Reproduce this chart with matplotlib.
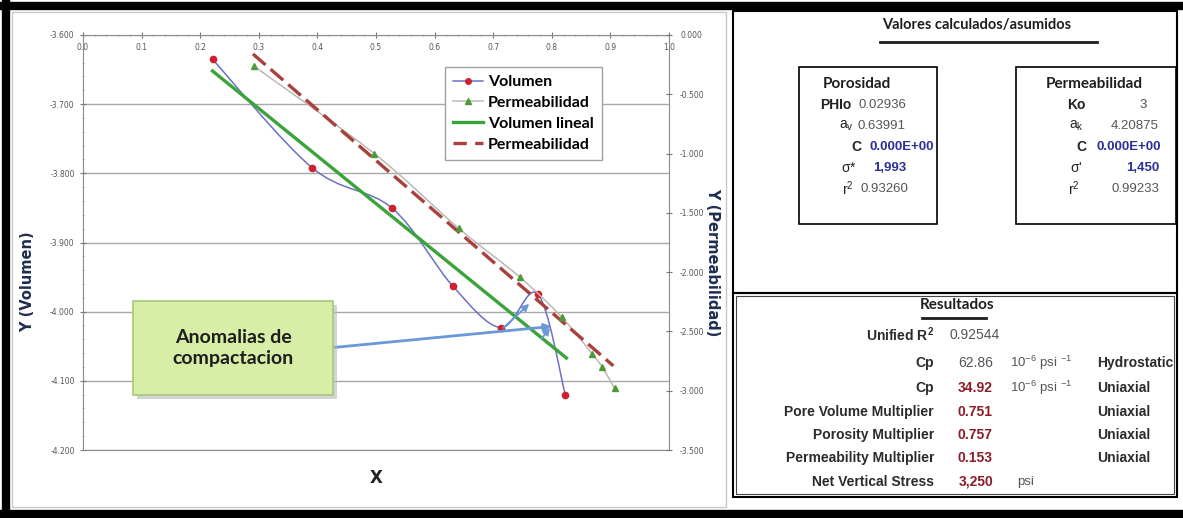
import numpy as np
import matplotlib.pyplot as plt
from matplotlib.path import Path
from matplotlib.patches import PathPatch, Rectangle
from matplotlib.lines import Line2D
from matplotlib.ticker import MultipleLocator, FuncFormatter
from matplotlib import font_manager

W, H = 1183, 518

# data
vol_x = [0.221, 0.391, 0.527, 0.631, 0.713, 0.776, 0.823]
vol_y = [-3.635, -3.792, -3.850, -3.963, -4.023, -3.974, -4.120]
perm_x = [0.291, 0.497, 0.641, 0.745, 0.817, 0.869, 0.886, 0.907]
perm_y = [-0.26, -1.00, -1.63, -2.04, -2.38, -2.69, -2.80, -2.98]
vol_lin_x = [0.221, 0.825]
vol_lin_y = [-3.652, -4.067]
perm_lin_x = [0.290, 0.905]
perm_lin_y = [-0.16, -2.79]
legend_labels = ['Volumen', 'Permeabilidad', 'Volumen lineal', 'Permeabilidad']

poro_labels = ['PHIo', r'a$_\mathregular{v}$', 'C', r'$\sigma$*', r'r$^\mathregular{2}$']
poro_values = ['0.02936', '0.63991', '0.000E+00', '1,993', '0.93260']
perm_labels = ['Ko', r'a$_\mathregular{k}$', 'C', r"$\sigma$'", r'r$^\mathregular{2}$']
perm_values = ['3', '4.20875', '0.000E+00', '1,450', '0.99233']

res_labels = [r'Unified R$^\mathregular{2}$', 'Cp', 'Cp', 'Pore Volume Multiplier',
              'Porosity Multiplier', 'Permeability Multiplier', 'Net Vertical Stress']
res_values = ['0.92544', '62.86', '34.92', '0.751', '0.757', '0.153', '3,250']
res_units = ['', r'10$^\mathregular{-6}$ psi $^\mathregular{-1}$',
             r'10$^\mathregular{-6}$ psi $^\mathregular{-1}$', '', '', '', 'psi']
res_type = ['', 'Hydrostatic', 'Uniaxial', 'Uniaxial', 'Uniaxial', 'Uniaxial', '']

names = {f.name for f in font_manager.fontManager.ttflist}
narrow = 'Liberation Sans Narrow' if 'Liberation Sans Narrow' in names else 'Liberation Sans'
plt.rcParams['mathtext.default'] = 'regular'


def fx(px):
    return px / W


def fy(py):
    return 1 - py / H


def smooth_path(ax, xs, ys):
    # Excel style smoothed line (Catmull-Rom bezier built in screen space)
    pts = ax.transData.transform(np.column_stack([xs, ys]))
    n = len(pts)
    verts = [pts[0]]
    codes = [Path.MOVETO]
    for i in range(n - 1):
        p0 = pts[i - 1] if i > 0 else pts[i]
        p1, p2 = pts[i], pts[i + 1]
        p3 = pts[i + 2] if i + 2 < n else pts[i + 1]
        verts += [p1 + (p2 - p0) / 6, p2 - (p3 - p1) / 6, p2]
        codes += [Path.CURVE4] * 3
    verts = ax.transData.inverted().transform(np.array(verts))
    return Path(verts, codes)


fig = plt.figure(figsize=(W / 100, H / 100), dpi=100)

# frames
fig.patches.append(Rectangle((fx(12), fy(507)), fx(726) - fx(12), fy(12) - fy(507),
                             transform=fig.transFigure, fill=False, ec='#C8C8C8', lw=1))
fig.patches.append(Rectangle((fx(733), fy(293)), fx(1177) - fx(733), fy(11) - fy(293),
                             transform=fig.transFigure, fill=False, ec='black', lw=1.5))
fig.patches.append(Rectangle((fx(733), fy(497)), fx(1177) - fx(733), fy(293) - fy(497),
                             transform=fig.transFigure, fill=False, ec='black', lw=1.5))
fig.patches.append(Rectangle((fx(736), fy(494)), fx(1174) - fx(736), fy(296) - fy(494),
                             transform=fig.transFigure, fill=False, ec='#444444', lw=0.8))
for x0, y0, x1, y1, lw in [(0, 6, W, 6, 6), (6, 0, 6, H, 6), (0, 514, W, 514, 6)]:
    fig.add_artist(Line2D([fx(x0), fx(x1)], [fy(y0), fy(y1)], transform=fig.transFigure,
                          color='black', lw=lw))

# chart
ax = fig.add_axes([fx(83), fy(450), fx(669) - fx(83), fy(35) - fy(450)])
ax.set_xlim(0, 1)
ax.set_ylim(-4.2, -3.6)
ax2 = ax.twinx()
ax2.set_ylim(-3.5, 0)

ax.yaxis.set_major_locator(MultipleLocator(0.1))
ax.yaxis.set_minor_locator(MultipleLocator(0.02))
ax.yaxis.set_major_formatter(FuncFormatter(lambda v, p: f'{v:.3f}'))
ax.xaxis.set_major_locator(MultipleLocator(0.1))
ax.xaxis.set_minor_locator(MultipleLocator(0.02))
ax.xaxis.set_major_formatter(FuncFormatter(lambda v, p: f'{v:.1f}'))
ax.xaxis.tick_top()
ax.tick_params(axis='x', which='major', direction='inout', length=4, color='#777777',
               labelsize=5.5, labelcolor='#555555', pad=-14)
ax.tick_params(axis='x', which='minor', direction='inout', length=2, color='#999999')
ax.tick_params(axis='y', which='major', direction='inout', length=4, color='#777777',
               labelsize=5.5, labelcolor='#555555', pad=4)
ax.tick_params(axis='y', which='minor', direction='inout', length=2, color='#999999')
ax2.yaxis.set_major_locator(MultipleLocator(0.5))
ax2.yaxis.set_major_formatter(FuncFormatter(lambda v, p: f'{v:.3f}'))
ax2.tick_params(axis='y', direction='inout', length=4, color='#777777',
                labelsize=5.5, labelcolor='#555555', pad=6)
for s in ax.spines.values():
    s.set_color('#8C8C8C')
for s in ax2.spines.values():
    s.set_visible(False)
ax.yaxis.grid(True, color='#A8A8A8', lw=1)
ax.set_axisbelow(True)

# series
ax.add_patch(PathPatch(smooth_path(ax, vol_x, vol_y), fill=False, ec='#6B70C4', lw=1.1, zorder=3))
ax.plot(vol_x, vol_y, ls='none', marker='o', ms=4.5, color='#D0202E', zorder=4)
ax2.add_patch(PathPatch(smooth_path(ax2, perm_x, perm_y), fill=False, ec='#BDB8B4', lw=1.1, zorder=3))
ax2.plot(perm_x, perm_y, ls='none', marker='^', ms=4.5, color='#4E9A3A', zorder=4)
ax.plot(vol_lin_x, vol_lin_y, color='#3BA33B', lw=2.4, zorder=3)
ax2.plot(perm_lin_x, perm_lin_y, color='#A8403C', lw=2.4, dashes=(5, 2), zorder=3)

# compaction anomaly callout
arrow = dict(arrowstyle='-|>', color='#6A98D8', lw=2, mutation_scale=10)
ax.annotate('', xy=(0.804, -4.021), xytext=(0.425, -4.052), arrowprops=arrow, zorder=5)
ax.annotate('', xy=(0.765, -3.986), xytext=(0.714, -4.026),
            arrowprops=dict(arrow, lw=1.4), zorder=5)
ax.annotate('', xy=(0.800, -4.020), xytext=(0.780, -4.042),
            arrowprops=dict(arrow, lw=1.4), zorder=5)
fig.patches.append(Rectangle((fx(137), fy(399)), fx(337) - fx(137), fy(305) - fy(399),
                             transform=fig.transFigure, fc='#B8B8B8', ec='none', alpha=0.6))
fig.patches.append(Rectangle((fx(133), fy(395)), fx(333) - fx(133), fy(301) - fy(395),
                             transform=fig.transFigure, fc='#D8EDA6', ec='#A6C878', lw=1.2))
fig.text(fx(233), fy(348), 'Anomalias de\ncompactacion', ha='center', va='center',
         family='Lato', fontsize=14, fontweight='bold', color='#1E1E1E', linespacing=1.3)

handles = [
    Line2D([], [], color='#6B70C4', lw=1.1, marker='o', ms=4, mfc='#D0202E', mec='#D0202E'),
    Line2D([], [], color='#BDB8B4', lw=1.1, marker='^', ms=4, mfc='#4E9A3A', mec='#4E9A3A'),
    Line2D([], [], color='#3BA33B', lw=2.4),
    Line2D([], [], color='#A8403C', lw=2.4, dashes=(4, 2.5)),
]
leg = ax.legend(handles, legend_labels, loc='upper left', bbox_to_anchor=(fx(445), fy(67)),
                bbox_transform=fig.transFigure, fancybox=False, edgecolor='#A0A0A0',
                framealpha=1, handlelength=1.9, handletextpad=0.3, labelspacing=0.42,
                borderpad=0.5, borderaxespad=0,
                prop=dict(family='Lato', weight='bold', size=11.5))
leg.get_frame().set_linewidth(1)
leg.set_zorder(6)

ax.set_xlabel('X', fontsize=12, fontweight='bold', color='#222222', labelpad=14)
fig.text(fx(28), fy(282), 'Y (Volumen)', rotation=90, ha='center', va='center',
         fontsize=10.5, fontweight='bold', color='#1F2D50')
fig.text(fx(713), fy(262), 'Y (Permeabilidad)', rotation=270, ha='center', va='center',
         fontsize=10.5, fontweight='bold', color='#1F2D50')

# calculated / assumed values
fig.text(fx(977), fy(25), 'Valores calculados/asumidos', ha='center', va='center',
         family='Lato', fontsize=10.5, fontweight='bold', color='#1E1E1E')
fig.add_artist(Line2D([fx(880), fx(1097)], [fy(42), fy(42)], transform=fig.transFigure,
                      color='#1E1E1E', lw=2))
fig.patches.append(Rectangle((fx(799), fy(224)), fx(937) - fx(799), fy(67) - fy(224),
                             transform=fig.transFigure, fill=False, ec='black', lw=1.2))
fig.patches.append(Rectangle((fx(1016), fy(224)), fx(1176) - fx(1016), fy(67) - fy(224),
                             transform=fig.transFigure, fill=False, ec='black', lw=1.2))
fig.text(fx(857), fy(84), 'Porosidad', ha='center', va='center', family='Lato',
         fontsize=11, fontweight='bold', color='#1E1E1E')
fig.text(fx(1094), fy(84), 'Permeabilidad', ha='center', va='center', family='Lato',
         fontsize=11, fontweight='bold', color='#1E1E1E')

row_y = [105, 126, 147, 168, 189]
poro_lab_x = [851, 854, 861, 857, 854]
poro_val_x = [906, 906, 934, 906, 908]
perm_lab_x = [1086, 1084, 1086, 1082, 1080]
perm_val_x = [1147, 1159, 1161, 1159, 1159]
for i in range(5):
    blue = i in (2, 3)
    vstyle = dict(family=narrow, fontsize=9.5, va='center',
                  color='#2B2F9A' if blue else '#555555',
                  fontweight='bold' if blue else 'normal')
    lstyle = dict(family=narrow, fontsize=10, va='center', ha='right',
                  color='#222222', fontweight='bold' if i in (0, 2) else 'normal')
    fig.text(fx(poro_lab_x[i]), fy(row_y[i]), poro_labels[i], **lstyle)
    fig.text(fx(poro_val_x[i]), fy(row_y[i]), poro_values[i], ha='right', **vstyle)
    fig.text(fx(perm_lab_x[i]), fy(row_y[i]), perm_labels[i], **lstyle)
    fig.text(fx(perm_val_x[i]), fy(row_y[i]), perm_values[i], ha='right', **vstyle)

# results
fig.text(fx(957), fy(305), 'Resultados', ha='center', va='center', family='Lato',
         fontsize=11, fontweight='bold', color='#1E1E1E')
fig.add_artist(Line2D([fx(922), fx(986)], [fy(318), fy(318)], transform=fig.transFigure,
                      color='#1E1E1E', lw=2))
res_y = [335, 363, 388, 412, 435, 458, 482]
for i in range(7):
    red = i >= 2
    fig.text(fx(934), fy(res_y[i]), res_labels[i], ha='right', va='center', family=narrow,
             fontsize=10, fontweight='bold', color='#2B2B2B')
    fig.text(fx(1000 if i == 0 else 993), fy(res_y[i]), res_values[i], ha='right', va='center',
             family=narrow, fontsize=10, color='#8B1C28' if red else '#555555',
             fontweight='bold' if red else 'normal')
    fig.text(fx(1010 if i < 6 else 1017), fy(res_y[i]), res_units[i], ha='left', va='center',
             family=narrow, fontsize=9.5, color='#555555')
    fig.text(fx(1097), fy(res_y[i]), res_type[i], ha='left', va='center', family=narrow,
             fontsize=10, fontweight='bold', color='#2B2B2B')

fig.savefig('out.png', dpi=100)
